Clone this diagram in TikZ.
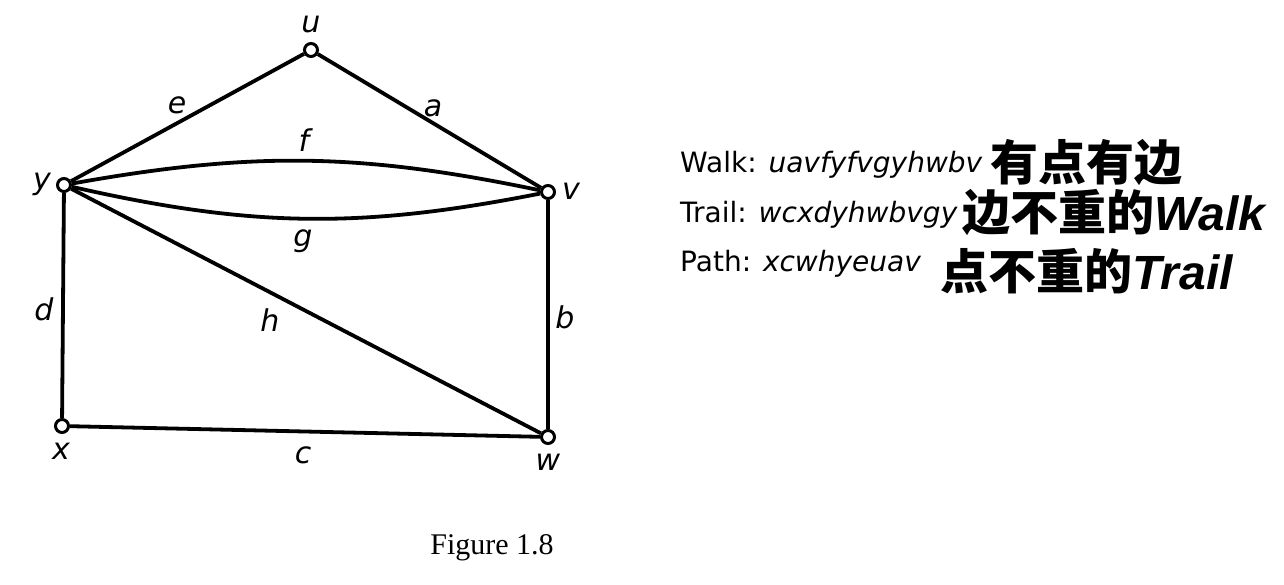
\documentclass[tikz,border=0pt]{standalone}
\usepackage{fontspec}
\setmainfont{Liberation Serif}
\setsansfont{DejaVu Sans}
\newfontfamily\arial{Liberation Sans}
\newfontfamily\cjk{Noto Sans CJK SC}
\usetikzlibrary{positioning}

\begin{document}
\begin{tikzpicture}[x=1pt,y=-1pt,
    vtx/.style={circle,draw,line width=3pt,inner sep=0pt,minimum size=13pt},
    edge/.style={line width=3.8pt},
    lbl/.style={font=\sffamily\itshape\fontsize{30}{30}\selectfont},
    txt/.style={anchor=base west,inner sep=0pt,font=\sffamily\fontsize{28}{28}\selectfont},
    zh/.style={anchor=base west,inner sep=0pt,font=\cjk\bfseries\fontsize{48}{48}\selectfont}]
    \useasboundingbox (0,0) rectangle (1284,584);

    % Các đỉnh
    \node[vtx] (u) at (311,50) {};
    \node[vtx] (y) at (64,185) {};
    \node[vtx] (v) at (548,192) {};
    \node[vtx] (x) at (62,426) {};
    \node[vtx] (w) at (548,437) {};

    % Các cạnh
    \draw[edge] (y) -- (u) -- (v);
    \draw[edge] (y) to[bend left=11] (v);
    \draw[edge] (y) to[bend right=12] (v);
    \draw[edge] (y) -- (x) -- (w) -- (v);
    \draw[edge] (y) -- (w);

    % Tên đỉnh
    \node[lbl] at (311,25) {u};
    \node[lbl] at (42,184) {y};
    \node[lbl] at (571,191) {v};
    \node[lbl] at (61,451) {x};
    \node[lbl] at (548,462) {w};

    % Tên cạnh
    \node[lbl] at (177,105) {e};
    \node[lbl] at (433,108) {a};
    \node[lbl] at (304,140) {f};
    \node[lbl] at (303,241) {g};
    \node[lbl] at (44,309) {d};
    \node[lbl] at (270,320) {h};
    \node[lbl] at (565,317) {b};
    \node[lbl] at (303,455) {c};

    % Chú thích bên phải
    \node[txt] (walk) at (680,172) {Walk: \itshape uavfyfvgyhwbv};
    \node[zh] (walkzh) at (990,180) {有点有边};
    \node[txt] (trail) at (680,222) {Trail: \itshape wcxdyhwbvgy};
    \node[zh] (trailzh) at (962,230) {边不重的\arial\itshape Walk};
    \node[txt] (path) at (680,271) {Path: \itshape xcwhyeuav};
    \node[zh] (pathzh) at (940,289) {点不重的\arial\itshape Trail};

    % Tên hình
    \node (caption) at (492,548) {\fontsize{30}{30}\selectfont Figure 1.8};
\end{tikzpicture}
\end{document}
